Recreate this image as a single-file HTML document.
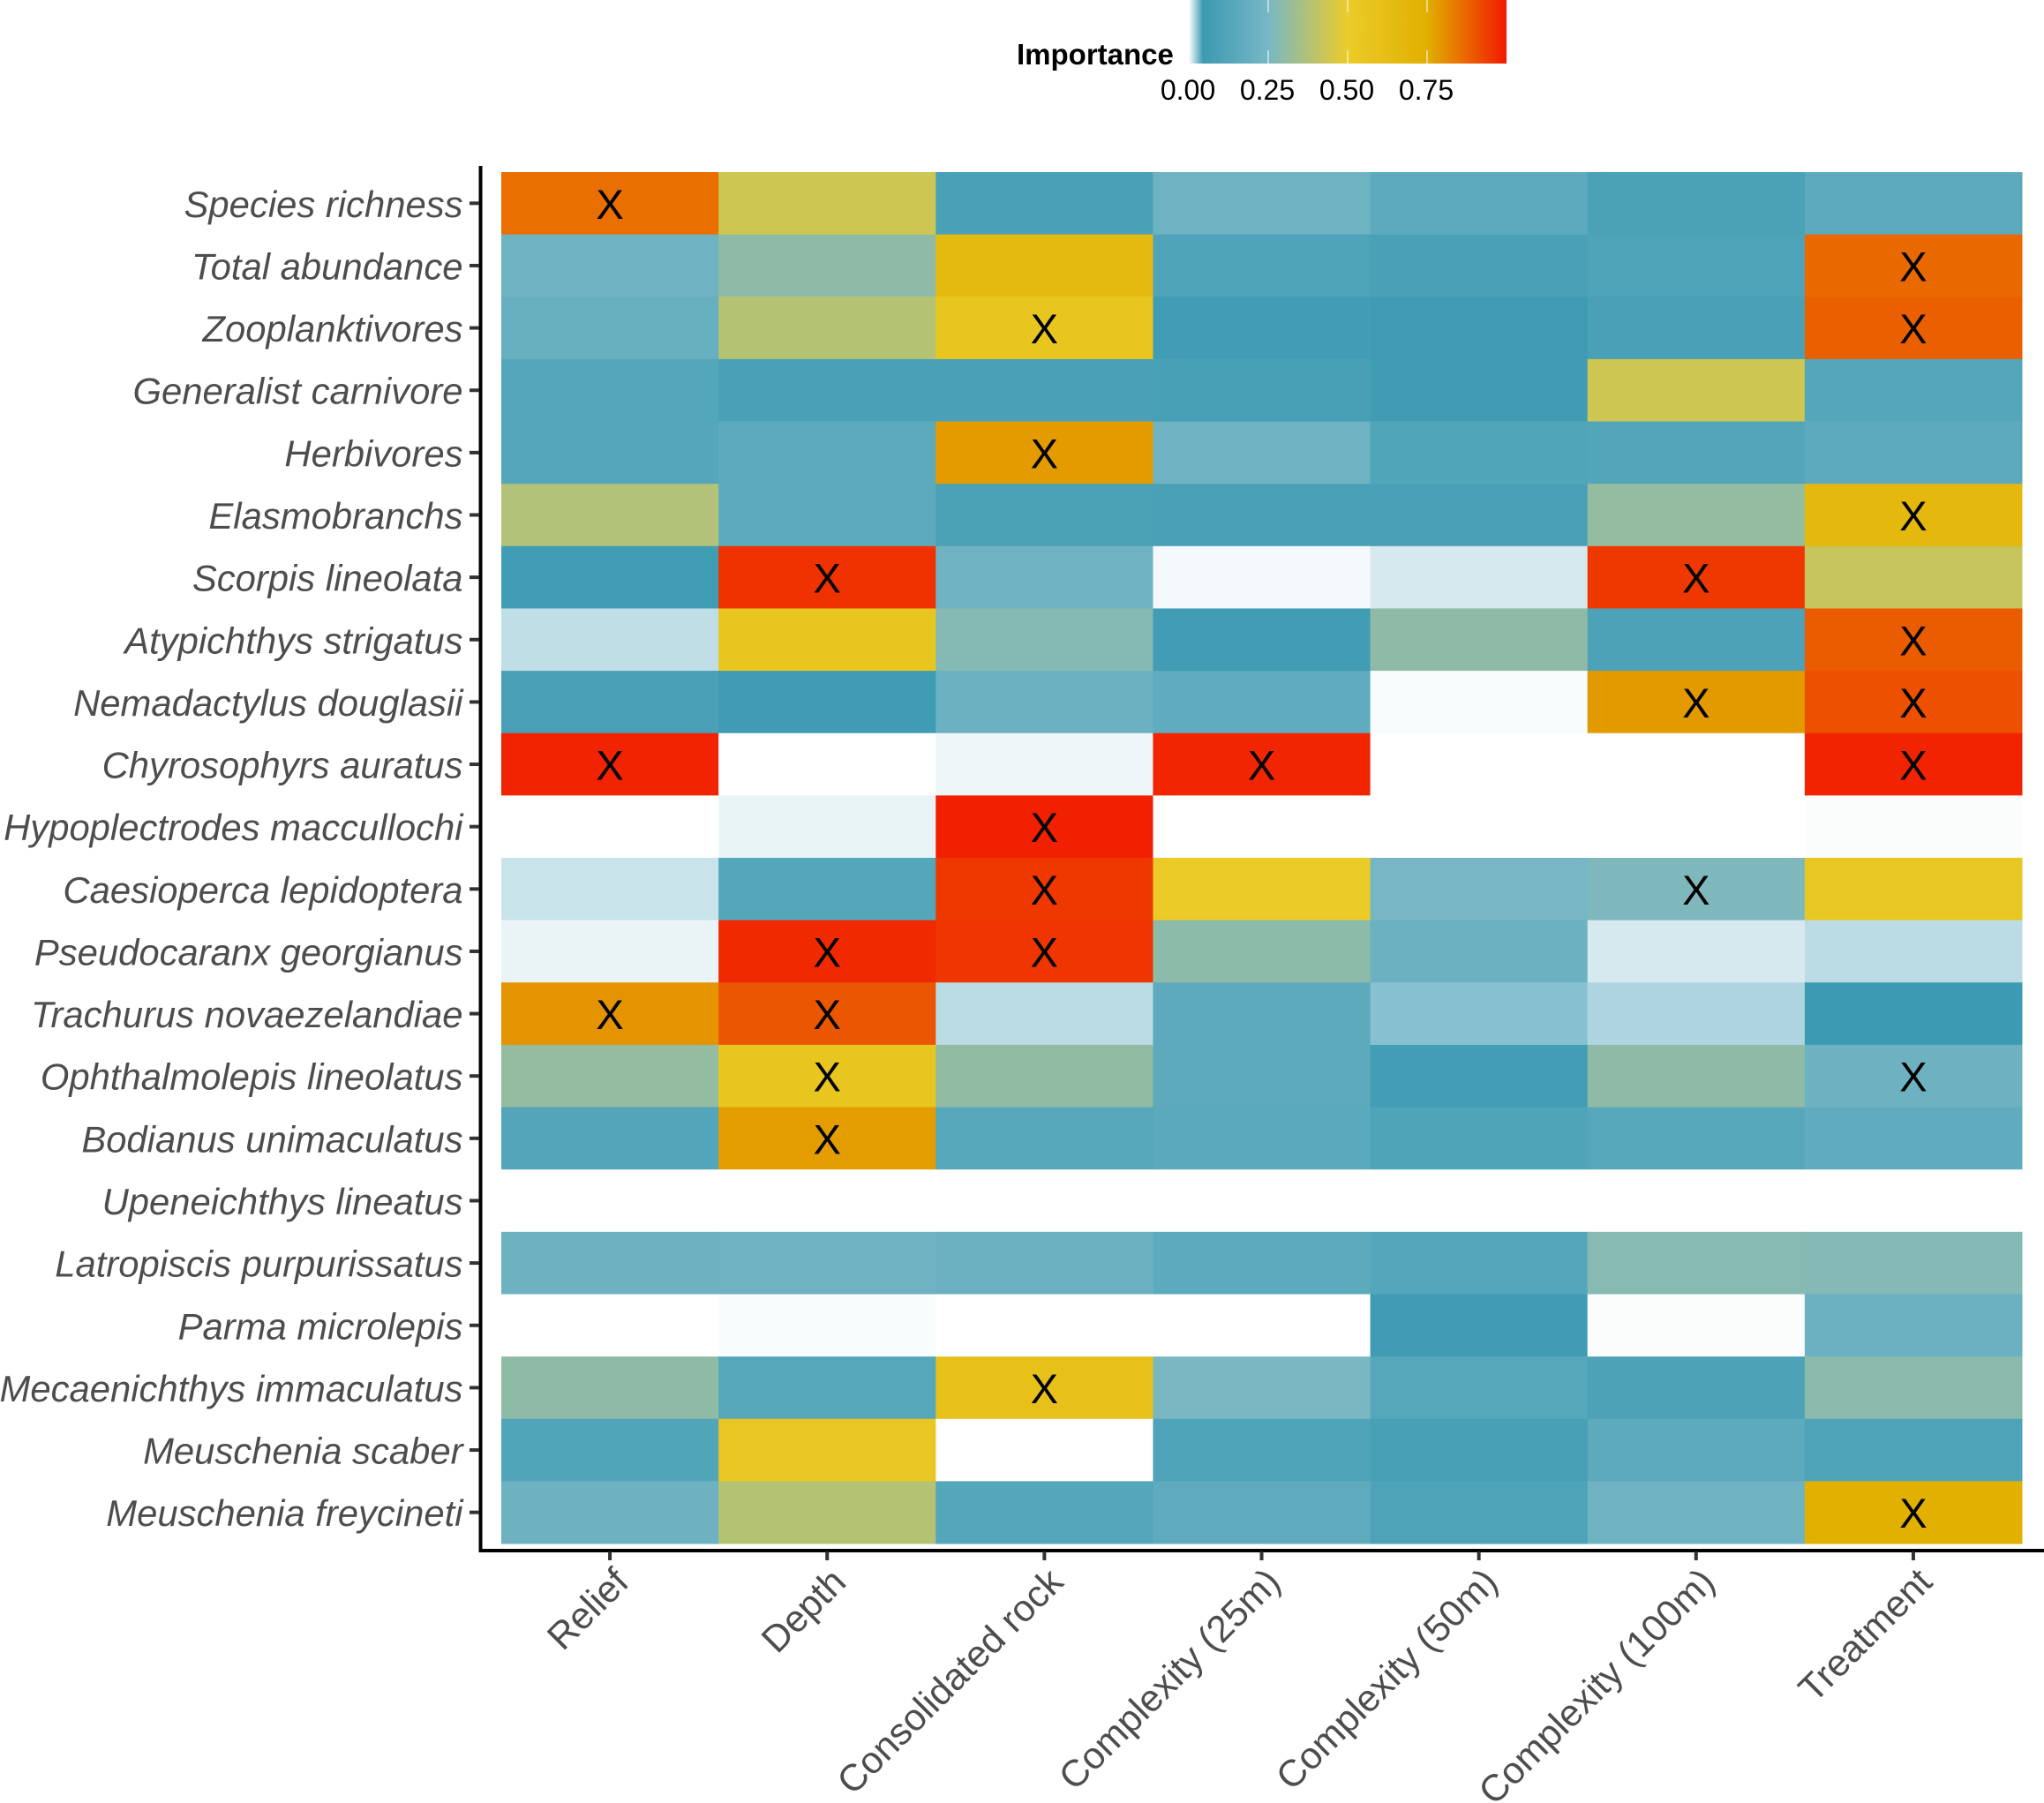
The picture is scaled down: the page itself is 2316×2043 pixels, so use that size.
<!DOCTYPE html>
<html lang="en">
<head>
<meta charset="utf-8">
<title>Importance heatmap</title>
<style>
html,body{margin:0;padding:0;background:#fff;}
body{width:2316px;height:2043px;overflow:hidden;}
svg{display:block;}
text{font-family:"Liberation Sans",Arial,sans-serif;}
</style>
</head>
<body>
<svg id="chart" xmlns="http://www.w3.org/2000/svg" width="2316" height="2043" viewBox="0 0 2316 2043">
  <defs>
    <linearGradient id="legend-gradient" x1="0" y1="0" x2="1" y2="0"></linearGradient>
  </defs>
  <rect x="0" y="0" width="2316" height="2043" fill="#ffffff"></rect>
  <g id="cells"></g>
  <g id="marks"></g>
  <g id="y-axis"></g>
  <g id="x-axis"></g>
  <g id="legend"></g>
</svg>
<script>
const species = ["Species richness","Total abundance","Zooplanktivores","Generalist carnivore","Herbivores","Elasmobranchs","Scorpis lineolata","Atypichthys strigatus","Nemadactylus douglasii","Chyrosophyrs auratus","Hypoplectrodes maccullochi","Caesioperca lepidoptera","Pseudocaranx georgianus","Trachurus novaezelandiae","Ophthalmolepis lineolatus","Bodianus unimaculatus","Upeneichthys lineatus","Latropiscis purpurissatus","Parma microlepis","Mecaenichthys immaculatus","Meuschenia scaber","Meuschenia freycineti"];
const predictors = ["Relief","Depth","Consolidated rock","Complexity (25m)","Complexity (50m)","Complexity (100m)","Treatment"];
const importance = [
  [.857,.434,.095,.22,.16,.10,.16],
  [.22,.30,.655,.11,.095,.11,.867],
  [.19,.38,.56,.065,.055,.095,.884],
  [.13,.095,.095,.085,.06,.434,.13],
  [.13,.16,.783,.22,.12,.125,.16],
  [.375,.155,.10,.095,.095,.31,.67],
  [.065,.96,.22,.0025,.0096,.95,.42],
  [.0145,.56,.278,.065,.30,.105,.89],
  [.095,.06,.205,.17,.0016,.785,.91],
  [.985,0,.004,.98,0,0,.985],
  [0,.005,.99,0,0,0,.001],
  [.0124,.13,.95,.51,.245,.263,.54],
  [.0048,.975,.955,.295,.21,.0096,.0156],
  [.795,.90,.0155,.16,.0275,.0186,.05],
  [.31,.56,.305,.155,.07,.30,.215],
  [.125,.78,.135,.15,.115,.14,.17],
  [0,0,0,0,0,0,0],
  [.215,.22,.21,.16,.13,.28,.275],
  [0,.0014,0,0,.06,.001,.205],
  [.30,.135,.60,.255,.14,.105,.29],
  [.12,.55,0,.11,.085,.155,.11],
  [.215,.38,.13,.165,.11,.22,.745]
];
const significant = [[0],[6],[2,6],[],[2],[6],[1,5],[6],[5,6],[0,3,6],[2],[2,5],[1,2],[0,1],[1,6],[1],[],[],[],[2],[],[6]];
const legendTicks = [0,0.25,0.5,0.75];
const legendTickLabels = ["0.00","0.25","0.50","0.75"];
const scaleValues = [0,0.045,0.25,0.5,0.75,1];
const scaleColors = ["#ffffff","#3B9AB2","#78B7C5","#EBCC2A","#E1AF00","#F21A00"];

const NS = "http://www.w3.org/2000/svg";
const plotLeft = 568, plotRight = 2291, plotTop = 195, plotBottom = 1749;
const colStep = (plotRight - plotLeft) / predictors.length;
const rowStep = (plotBottom - plotTop) / species.length;
const xBand = i => plotLeft + i * colStep;
const yBand = i => plotTop + i * rowStep;
const xMid = i => xBand(i) + colStep / 2;
const yMid = i => yBand(i) + rowStep / 2;
const legendLeft = 1347, legendRight = 1707;
const legendX = v => legendLeft + v * (legendRight - legendLeft);

function hexToRgb(h){return [1,3,5].map(p => parseInt(h.substr(p,2),16));}
function colorFor(v){
  v = Math.max(0, Math.min(1, v));
  let k = 0;
  while (k < scaleValues.length - 2 && v > scaleValues[k+1]) k++;
  const t = (v - scaleValues[k]) / (scaleValues[k+1] - scaleValues[k]);
  const a = hexToRgb(scaleColors[k]), b = hexToRgb(scaleColors[k+1]);
  const c = a.map((x,i) => Math.round(x + (b[i]-x)*t));
  return "rgb(" + c.join(",") + ")";
}
function make(tag, attrs, parent, txt){
  const el = document.createElementNS(NS, tag);
  for (const k in attrs) el.setAttribute(k, attrs[k]);
  if (txt !== undefined) el.textContent = txt;
  parent.appendChild(el);
  return el;
}
const cellsG = document.getElementById("cells");
const marksG = document.getElementById("marks");
const yG = document.getElementById("y-axis");
const xG = document.getElementById("x-axis");
const legendG = document.getElementById("legend");

importance.forEach((row, r) => {
  row.forEach((v, c) => {
    const el = make("rect", {x:xBand(c), y:yBand(r), width:colStep+0.5, height:rowStep+0.5, fill:colorFor(v)}, cellsG);
    
    
  });
});
significant.forEach((cols, r) => {
  cols.forEach(c => {
    const el = make("text", {x:xMid(c), y:yMid(r)+17.5, "text-anchor":"middle", "font-size":47, fill:"#000000"}, marksG, "X");
    
    
  });
});

const yLine = make("rect", {x:542.5, y:188, width:4, height:1571, fill:"#000000"}, yG);


species.forEach((name, r) => {
  const t = make("rect", {x:532, y:yMid(r)-2, width:11, height:4, fill:"#333333"}, yG);
  
  
  const l = make("text", {x:524.5, y:yMid(r)+15.5, "text-anchor":"end", "font-size":41.8, "font-style":"italic", fill:"#4D4D4D"}, yG, name);
  
  
});

const xLine = make("rect", {x:542.5, y:1755, width:1773.5, height:4, fill:"#000000"}, xG);


predictors.forEach((name, c) => {
  const t = make("rect", {x:xMid(c)-2, y:1758, width:4, height:10, fill:"#333333"}, xG);
  
  
  const ax = xMid(c) + 23.5, ay = 1795;
  const l = make("text", {x:ax, y:ay, "text-anchor":"end", "font-size":42.5, fill:"#4D4D4D", transform:"rotate(-45 "+ax+" "+ay+")"}, xG, name);
  
  
});

const grad = document.getElementById("legend-gradient");
scaleValues.forEach((v, i) => {
  make("stop", {offset:v, "stop-color":scaleColors[i]}, grad);
});
const bar = make("rect", {x:legendLeft, y:0, width:legendRight-legendLeft, height:72, fill:"url(#legend-gradient)"}, legendG);


legendTicks.forEach((v, i) => {
  if (v > 0) {
    const a = make("rect", {x:legendX(v)-0.5, y:0, width:1, height:14, fill:"#ffffff"}, legendG);
    
    
    const b = make("rect", {x:legendX(v)-0.5, y:57, width:1, height:15, fill:"#ffffff"}, legendG);
    
    
  }
  const l = make("text", {x:legendX(v)-1, y:113, "text-anchor":"middle", "font-size":32, fill:"#000000"}, legendG, legendTickLabels[i]);
  
  
});
const title = make("text", {x:1152, y:73, "font-size":33, "font-weight":"bold", fill:"#000000"}, legendG, "Importance");


</script>
</body>
</html>
